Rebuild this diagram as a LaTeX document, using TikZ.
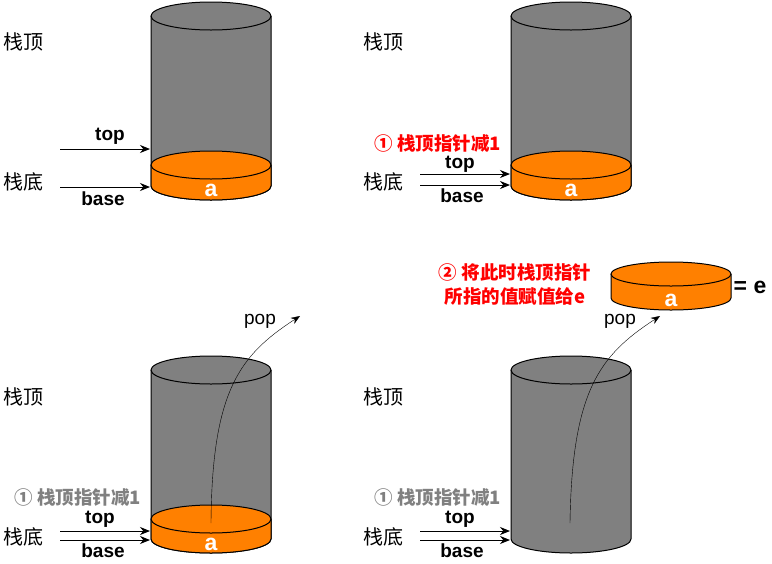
\documentclass[tikz,border=0pt]{standalone}
\usepackage{fontspec}
\setmainfont{Liberation Sans}
\newfontfamily\cjk{Noto Sans CJK SC}
\usetikzlibrary{arrows.meta}
\definecolor{stackgray}{HTML}{808080}
\definecolor{dataorange}{HTML}{FF8000}

\tikzset{
  body/.style={fill=stackgray,draw=black,line width=1pt},
  disk/.style={fill=dataorange,draw=black,line width=1pt},
  ptr/.style={-{Stealth[length=10pt,width=8pt]},line width=1pt},
  side/.style={font=\cjk\fontsize{20}{22}\selectfont},
  ptrlab/.style={font=\bfseries\fontsize{19}{20}\selectfont,inner sep=0.5pt},
  val/.style={font=\bfseries\fontsize{23}{24}\selectfont,text=white},
  note/.style={font=\cjk\bfseries\fontsize{18.5}{24}\selectfont,text=red,align=center,inner sep=0.5pt},
  oldnote/.style={note,text=stackgray},
  poplab/.style={font=\fontsize{19}{20}\selectfont},
}

\begin{document}
\begin{tikzpicture}[x=1pt,y=-1pt]
\useasboundingbox (0,0) rectangle (772,563);

% ---- panel 1
\draw[body] (151,16) -- (151,186) arc[start angle=180,end angle=0,x radius=60,y radius=14] -- (271,16);
\draw[body] (211,16) ellipse[x radius=60,y radius=14];
\draw[disk] (151,165) -- (151,186) arc[start angle=180,end angle=0,x radius=60,y radius=14] -- (271,165);
\draw[disk] (211,165) ellipse[x radius=60,y radius=14];
\node[val] (a1) at (211,190) {a};
\node[side] (stop1) at (23,42) {栈顶};
\node[side] (sbot1) at (23,182) {栈底};
\coordinate (tfrom1) at (60,149); \coordinate (tto1) at (150,149);
\coordinate (bfrom1) at (60,187); \coordinate (bto1) at (150,187);
\draw[ptr] (tfrom1) -- (tto1);
\draw[ptr] (bfrom1) -- (bto1);
\node[ptrlab] (top1) at (110,136) {top};
\node[ptrlab] (base1) at (103,199) {base};

% ---- panel 2
\draw[body] (511,16) -- (511,186) arc[start angle=180,end angle=0,x radius=60,y radius=14] -- (631,16);
\draw[body] (571,16) ellipse[x radius=60,y radius=14];
\draw[disk] (511,165) -- (511,186) arc[start angle=180,end angle=0,x radius=60,y radius=14] -- (631,165);
\draw[disk] (571,165) ellipse[x radius=60,y radius=14];
\node[val] (a2) at (571,190) {a};
\node[side] (stop2) at (383,42) {栈顶};
\node[side] (sbot2) at (383,182) {栈底};
\node[note] (dec2) at (438,144) {① 栈顶指针减1};
\coordinate (tfrom2) at (420,174); \coordinate (tto2) at (510,174);
\coordinate (bfrom2) at (420,185); \coordinate (bto2) at (510,185);
\draw[ptr] (tfrom2) -- (tto2);
\draw[ptr] (bfrom2) -- (bto2);
\node[ptrlab] (top2) at (460,164) {top};
\node[ptrlab] (base2) at (462,196) {base};

% ---- panel 3
\draw[body] (151,370) -- (151,539) arc[start angle=180,end angle=0,x radius=60,y radius=14] -- (271,370);
\draw[body] (211,370) ellipse[x radius=60,y radius=14];
\draw[disk] (151,519) -- (151,539) arc[start angle=180,end angle=0,x radius=60,y radius=14] -- (271,519);
\draw[disk] (211,519) ellipse[x radius=60,y radius=14];
\node[val] (a3) at (211,544) {a};
\node[side] (stop3) at (23,397) {栈顶};
\node[side] (sbot3) at (23,537) {栈底};
\node[oldnote] (dec3) at (78,498) {① 栈顶指针减1};
\coordinate (tfrom3) at (60,531); \coordinate (tto3) at (150,531);
\coordinate (bfrom3) at (60,540); \coordinate (bto3) at (150,540);
\draw[ptr] (tfrom3) -- (tto3);
\draw[ptr] (bfrom3) -- (bto3);
\node[ptrlab] (top3) at (100,519) {top};
\node[ptrlab] (base3) at (103,551) {base};
\coordinate (pfrom3) at (211,523); \coordinate (pto3) at (300,316);
\draw[-{Stealth[length=9pt,width=7pt]}] (pfrom3) .. controls (212,390) and (240,355) .. (pto3);
\node[poplab] (pop3) at (260,321) {pop};

% ---- panel 4
\draw[body] (511,370) -- (511,539) arc[start angle=180,end angle=0,x radius=60,y radius=14] -- (631,370);
\draw[body] (571,370) ellipse[x radius=60,y radius=14];
\node[side] (stop4) at (383,397) {栈顶};
\node[side] (sbot4) at (383,537) {栈底};
\node[oldnote] (dec4) at (438,498) {① 栈顶指针减1};
\coordinate (tfrom4) at (420,531); \coordinate (tto4) at (510,531);
\coordinate (bfrom4) at (420,540); \coordinate (bto4) at (510,540);
\draw[ptr] (tfrom4) -- (tto4);
\draw[ptr] (bfrom4) -- (bto4);
\node[ptrlab] (top4) at (460,519) {top};
\node[ptrlab] (base4) at (462,551) {base};
\coordinate (pfrom4) at (570,523); \coordinate (pto4) at (660,316);
\draw[-{Stealth[length=9pt,width=7pt]}] (pfrom4) .. controls (572,390) and (600,355) .. (pto4);
\node[poplab] (pop4) at (620,321) {pop};

% popped element
\draw[disk] (611,274) -- (611,298) arc[start angle=180,end angle=0,x radius=60,y radius=12] -- (731,274);
\draw[disk] (671,274) ellipse[x radius=60,y radius=12];
\node[val] (e4) at (671,300) {a};
\node[ptrlab,font=\bfseries\fontsize{23}{24}\selectfont] (eq4) at (750,287) {= e};
\node[note] (asg4) at (515,285) {② 将此时栈顶指针\\所指的值赋值给e};

\end{tikzpicture}
\end{document}
